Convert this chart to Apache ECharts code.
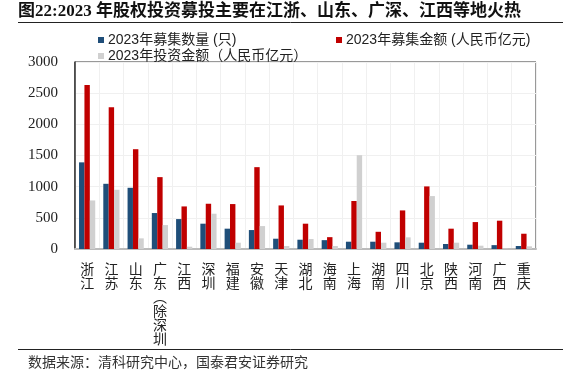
<!DOCTYPE html>
<html>
<head>
<meta charset="utf-8">
<script src="https://cdn.jsdelivr.net/npm/echarts@6/dist/echarts.min.js"></script>
<style>
html,body{margin:0;padding:0;background:#fff;}
#c{width:563px;height:373px;}
</style>
</head>
<body>
<div id="c"></div>
<script>
const categories = ['浙江','江苏','山东','广东（除深圳','江西','深圳','福建','安徽','天津','湖北','海南','上海','湖南','四川','北京','陕西','河南','广西','重庆'];
const fundCount = [1390, 1046, 982, 577, 480, 406, 326, 304, 165, 149, 142, 117, 117, 107, 101, 80, 69, 62, 48];
const fundAmount = [2630, 2274, 1601, 1153, 683, 726, 721, 1313, 699, 406, 190, 770, 276, 619, 1004, 326, 432, 454, 245];
const investAmount = [779, 950, 171, 384, 37, 566, 101, 368, 48, 160, 48, 1505, 101, 187, 849, 101, 53, 5, 43];
const yTicks = [0, 500, 1000, 1500, 2000, 2500, 3000];
const seriesNames = ['2023年募集数量 (只)', '2023年募集金额 (人民币亿元)', '2023年投资金额（人民币亿元）'];
const titleText = '图22:2023 年股权投资募投主要在江浙、山东、广深、江西等地火热';
const sourceText = '数据来源：清科研究中心，国泰君安证券研究';

const chart = echarts.init(document.getElementById('c'), null, {renderer: 'canvas'});
const CJK = 'Liberation Sans, Noto Sans CJK SC, sans-serif';
const colors = ['#1F4E79', '#C00000', '#D0D0D0'];

function legendAt(i, left, top) {
  return {
    data: [seriesNames[i]], left: left, top: top, orient: 'horizontal',
    itemWidth: 6, itemHeight: 6, itemGap: 4, icon: 'rect', padding: 0,
    textStyle: {fontFamily: CJK, fontSize: 14, color: '#222', padding: [0,0,0,-1]}
  };
}

chart.setOption({
  animation: false,
  color: colors,
  legend: [legendAt(0, 98, 33), legendAt(1, 336, 33), legendAt(2, 98, 49)],
  grid: {left: 75, right: 27, top: 62, bottom: 124, show: true, borderColor: '#333', borderWidth: 1, containLabel: false},
  xAxis: {
    type: 'category', data: categories,
    axisLine: {show: true, onZero: false, lineStyle: {color: '#BBBBBB', width: 2}},
    axisTick: {show: false},
    splitLine: {show: true, interval: 0, lineStyle: {color: '#F0F0F0', width: 1}},
    axisLabel: {
      interval: 0, margin: 13, color: '#222', fontSize: 14, lineHeight: 14,
      fontFamily: 'Noto Sans CJK SC, sans-serif', verticalAlign: 'top',
      formatter: v => v.split('').map(c => c === '（' ? '︵' : (c === '）' ? '︶' : c)).join('\n')
    }
  },
  yAxis: {
    type: 'value', min: yTicks[0], max: yTicks[yTicks.length - 1], interval: yTicks[1] - yTicks[0],
    axisLine: {show: true, lineStyle: {color: '#333', width: 1.5}},
    axisTick: {show: false},
    splitLine: {show: true, lineStyle: {color: '#F0F0F0', width: 1}},
    axisLabel: {margin: 17, color: '#222', fontSize: 15, fontFamily: 'Liberation Serif', formatter: v => String(v)}
  },
  series: [
    {name: seriesNames[0], type: 'bar', data: fundCount, barWidth: 5.4, barGap: '0%', itemStyle: {color: colors[0]}},
    {name: seriesNames[1], type: 'bar', data: fundAmount, barWidth: 5.4, barGap: '0%', itemStyle: {color: colors[1]}},
    {name: seriesNames[2], type: 'bar', data: investAmount, barWidth: 5.4, barGap: '0%', itemStyle: {color: colors[2]}}
  ],
  graphic: [
    {type: 'text', left: 18, top: 3, style: {text: titleText, fontSize: 17, fontWeight: 'bold', fill: '#111', fontFamily: 'Liberation Serif, Noto Sans CJK SC, serif'}},
    {type: 'line', shape: {x1: 18, y1: 22.5, x2: 563, y2: 22.5}, style: {stroke: '#222', lineWidth: 1}},
    {type: 'line', shape: {x1: 18, y1: 349.5, x2: 563, y2: 349.5}, style: {stroke: '#222', lineWidth: 1}},
    {type: 'text', left: 28, top: 355, style: {text: sourceText, fontSize: 14, fill: '#333', fontFamily: 'Noto Sans CJK SC, sans-serif'}}
  ]
});
</script>
</body>
</html>
